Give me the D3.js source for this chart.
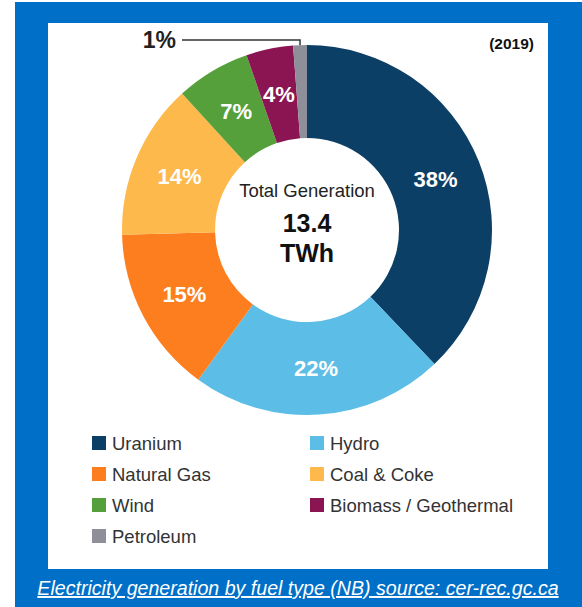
<!DOCTYPE html>
<html>
<head>
<meta charset="utf-8">
<script src="https://cdn.jsdelivr.net/npm/d3@7"></script>
<style>
  body { margin: 0; background: #fff; }
  text { font-family: "Liberation Sans", Arial, sans-serif; }
</style>
</head>
<body>
<div id="chart"></div>
<script>
// NB electricity generation by fuel, 2019 (share of total, %)
const fuels = ["Uranium", "Hydro", "Natural Gas", "Coal & Coke", "Wind", "Biomass / Geothermal", "Petroleum"];
const shares = [37.9, 22.1, 14.6, 13.6, 6.5, 4.1, 1.2];
const fuelColors = ["#0c3f66", "#5cbde6", "#fd7e1f", "#fdb94c", "#56a03b", "#8b1552", "#8f8f99"];
const totalLabel = ["Total Generation", "13.4", "TWh"];
const yearLabel = "(2019)";
const caption = "Electricity generation by fuel type (NB) source: cer-rec.gc.ca";

const W = 582, H = 607;
const cx = 307, cy = 230, outerR = 185, innerR = 92;

const data = fuels.map((f, i) => ({fuel: f, value: shares[i]}));

const color = d3.scaleOrdinal()
    .domain(fuels)
    .range(fuelColors);

const svg = d3.select("#chart")
    .append("svg")
    .attr("width", W)
    .attr("height", H);

// blue frame + white panel
svg.append("rect")
    .attr("x", 15).attr("y", 2)
    .attr("width", W - 15).attr("height", H - 2)
    .attr("fill", "#006fc8");
svg.append("rect")
    .attr("x", 48).attr("y", 23)
    .attr("width", 500).attr("height", 546)
    .attr("fill", "#fff");

const pie = d3.pie()
    .sort(null)
    .value(d => d.value);

const arcGen = d3.arc()
    .innerRadius(innerR)
    .outerRadius(outerR);

const labelArc = d3.arc()
    .innerRadius(138.5)
    .outerRadius(138.5);

const g = svg.append("g")
    .attr("transform", `translate(${cx},${cy})`);

const arcs = pie(data);

g.selectAll("path")
    .data(arcs)
    .enter()
    .append("path")
    .attr("d", arcGen)
    .attr("fill", d => color(d.data.fuel));

// inside labels (skip the tiny last slice)
g.selectAll("text.pct")
    .data(arcs.filter(d => d.data.fuel !== "Petroleum"))
    .enter()
    .append("text")
    .attr("class", "pct")
    .attr("transform", d => `translate(${labelArc.centroid(d)})`)
    .attr("text-anchor", "middle")
    .attr("dy", "0.36em")
    .style("font-size", "22px")
    .style("font-weight", "bold")
    .style("fill", "#fff")
    .text(d => Math.round(d.data.value) + "%");

// petroleum callout
const pet = arcs[arcs.length - 1];
const mid = (pet.startAngle + pet.endAngle) / 2;
const px = outerR * Math.sin(mid);
const py = -outerR * Math.cos(mid);
const lineY = 40 - cy;
g.append("path")
    .attr("d", `M${px},${py}V${lineY}H${182 - cx}`)
    .attr("fill", "none")
    .attr("stroke", "#333")
    .attr("stroke-width", 1.5);
g.append("text")
    .attr("x", 176 - cx)
    .attr("y", lineY)
    .attr("dy", "0.36em")
    .attr("text-anchor", "end")
    .style("font-size", "23px")
    .style("font-weight", "bold")
    .style("fill", "#222")
    .text(Math.round(pet.data.value) + "%");

// centre text
g.append("text")
    .attr("y", -33)
    .attr("text-anchor", "middle")
    .style("font-size", "18.5px")
    .style("fill", "#222")
    .text(totalLabel[0]);
g.append("text")
    .attr("y", 2)
    .attr("text-anchor", "middle")
    .style("font-size", "25px")
    .style("font-weight", "bold")
    .style("fill", "#111")
    .text(totalLabel[1]);
g.append("text")
    .attr("y", 32)
    .attr("text-anchor", "middle")
    .style("font-size", "25px")
    .style("font-weight", "bold")
    .style("fill", "#111")
    .text(totalLabel[2]);

svg.append("text")
    .attr("x", 534)
    .attr("y", 43)
    .attr("dy", "0.36em")
    .attr("text-anchor", "end")
    .style("font-size", "15.5px")
    .style("font-weight", "bold")
    .style("fill", "#111")
    .text(yearLabel);

// legend, two columns
const legend = svg.append("g")
    .selectAll("g")
    .data(fuels)
    .enter()
    .append("g")
    .attr("transform", (d, i) => `translate(${i % 2 === 0 ? 92 : 310},${443 + Math.floor(i / 2) * 31})`);

legend.append("rect")
    .attr("x", 0).attr("y", -7)
    .attr("width", 14).attr("height", 14)
    .attr("fill", d => color(d));

legend.append("text")
    .attr("x", 20)
    .attr("dy", "0.36em")
    .style("font-size", "18.5px")
    .style("fill", "#333")
    .text(d => d);

// caption
svg.append("text")
    .attr("x", 298)
    .attr("y", 595)
    .attr("text-anchor", "middle")
    .style("font-size", "19.6px")
    .style("font-style", "italic")
    .style("text-decoration", "underline")
    .style("fill", "#fff")
    .text(caption);
</script>
</body>
</html>
